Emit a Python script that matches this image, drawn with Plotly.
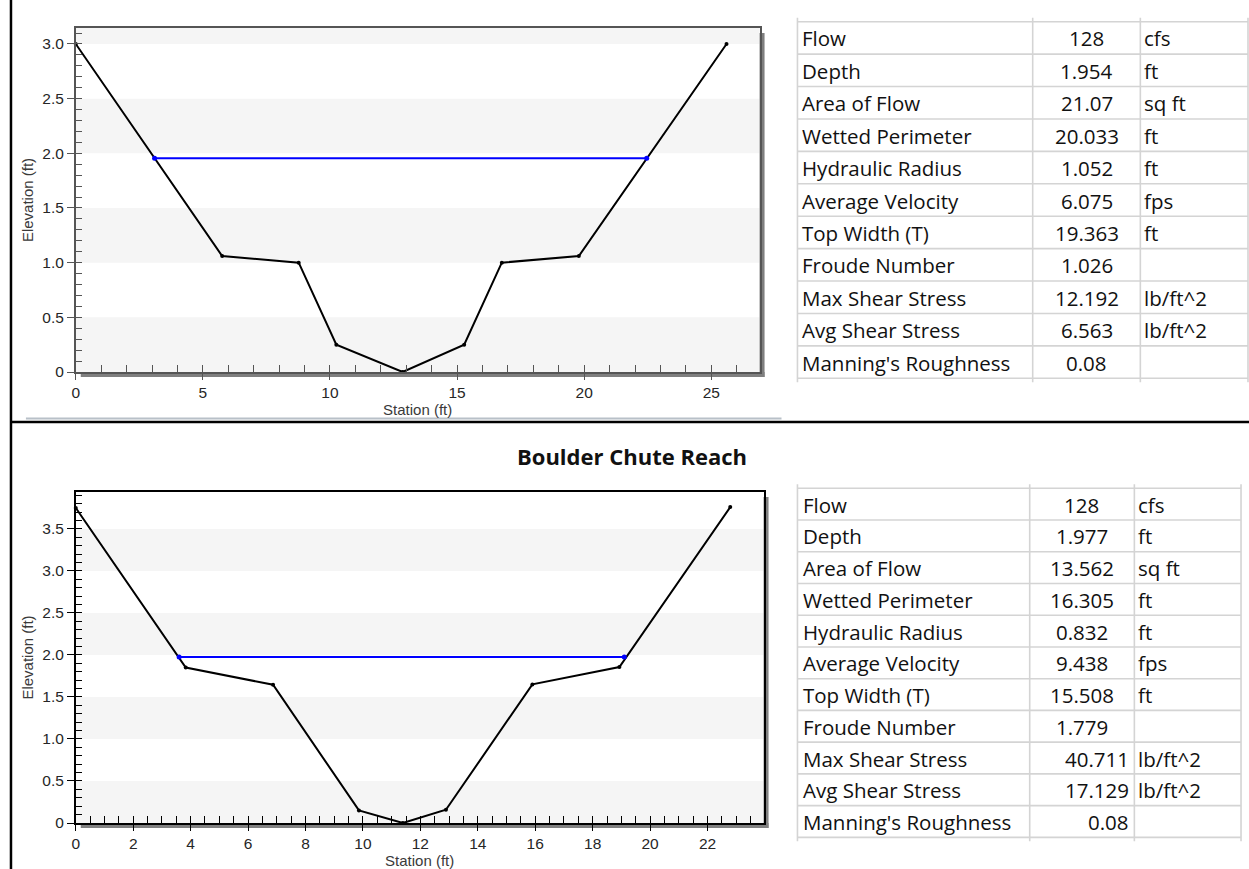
import plotly.graph_objects as go

# ---------------- data ----------------
# Top cross-section
top_station = [0, 5.76, 8.77, 10.25, 12.86, 15.28, 16.76, 19.79, 25.6]
top_elev = [3.0, 1.06, 1.00, 0.25, 0.0, 0.25, 1.00, 1.06, 3.0]
top_ws_station = [3.10, 22.46]
top_ws_elev = [1.954, 1.954]

# Boulder Chute Reach cross-section
bot_station = [0, 3.83, 6.87, 9.86, 11.39, 12.89, 15.9, 18.93, 22.79]
bot_elev = [3.75, 1.85, 1.646, 0.15, 0.0, 0.158, 1.65, 1.857, 3.76]
bot_ws_station = [3.60, 19.10]
bot_ws_elev = [1.977, 1.977]

top_yticks = [0, 0.5, 1.0, 1.5, 2.0, 2.5, 3.0]
top_yticktext = ["0", "0.5", "1.0", "1.5", "2.0", "2.5", "3.0"]
bot_yticks = [0, 0.5, 1.0, 1.5, 2.0, 2.5, 3.0, 3.5]
bot_yticktext = ["0", "0.5", "1.0", "1.5", "2.0", "2.5", "3.0", "3.5"]

table_labels = ["Flow", "Depth", "Area of Flow", "Wetted Perimeter", "Hydraulic Radius",
                "Average Velocity", "Top Width (T)", "Froude Number", "Max Shear Stress",
                "Avg Shear Stress", "Manning's Roughness"]
top_values = ["128", "1.954", "21.07", "20.033", "1.052", "6.075", "19.363", "1.026",
              "12.192", "6.563", "0.08"]
top_units = ["cfs", "ft", "sq ft", "ft", "ft", "fps", "ft", "", "lb/ft^2", "lb/ft^2", ""]
bot_values = ["128", "1.977", "13.562", "16.305", "0.832", "9.438", "15.508", "1.779",
              "40.711", "17.129", "0.08"]
bot_units = ["cfs", "ft", "sq ft", "ft", "ft", "fps", "ft", "", "lb/ft^2", "lb/ft^2", ""]
bot_value_right = [False] * 8 + [True] * 3

title_text = "Boulder Chute Reach"

# ---------------- layout helpers ----------------
W = 1249
REF_H = 869
FIG_H = 877
def px(x):
    return x / W
def py(y):
    return 1 - y / REF_H

L1, R1, T1, B1 = 72, 758, 28, 372
L2, R2, T2, B2 = 72, 762, 492, 823
top_xrange = [0, 26.9]
top_yrange = [0, 3.146]
bot_xrange = [0, 23.95]
bot_yrange = [0, 3.94]

TICKFONT = dict(family="Liberation Sans, Arial, sans-serif", size=15.5, color="#262626")
TITLEFONT = dict(family="Liberation Sans, Arial, sans-serif", size=15, color="#3a3a3a")
TABLEFONT = dict(family="Open Sans, sans-serif", size=20.5, color="#111111")

fig = go.Figure()

# ground lines and water surfaces
fig.add_trace(go.Scatter(x=top_station, y=top_elev, mode="lines+markers",
                         line=dict(color="black", width=2), marker=dict(color="black", size=4),
                         xaxis="x", yaxis="y", cliponaxis=False, showlegend=False))
fig.add_trace(go.Scatter(x=top_ws_station, y=top_ws_elev, mode="lines+markers",
                         line=dict(color="#0000ff", width=2), marker=dict(color="#0000ff", size=5),
                         xaxis="x", yaxis="y", cliponaxis=False, showlegend=False))
fig.add_trace(go.Scatter(x=bot_station, y=bot_elev, mode="lines+markers",
                         line=dict(color="black", width=2), marker=dict(color="black", size=4),
                         xaxis="x2", yaxis="y2", cliponaxis=False, showlegend=False))
fig.add_trace(go.Scatter(x=bot_ws_station, y=bot_ws_elev, mode="lines+markers",
                         line=dict(color="#0000ff", width=2), marker=dict(color="#0000ff", size=5),
                         xaxis="x2", yaxis="y2", cliponaxis=False, showlegend=False))

def main_x(domain, rng, dtick, minor_dtick, color, title, standoff):
    return dict(domain=domain, range=rng, dtick=dtick, tick0=0, ticks="outside", ticklen=6,
                tickwidth=1.3, tickcolor=color, showline=True, mirror=True, linecolor=color,
                linewidth=1.6, showgrid=False, zeroline=False, tickfont=TICKFONT,
                minor=dict(dtick=minor_dtick, tick0=0, ticks="inside", ticklen=7,
                           tickcolor=color, tickwidth=1.2, showgrid=False),
                title=dict(text=title, font=TITLEFONT, standoff=standoff), fixedrange=True)

def main_y(domain, rng, vals, text, color, title):
    return dict(domain=domain, range=rng, tickmode="array", tickvals=vals, ticktext=text,
                ticks="outside", ticklen=7, tickwidth=1.3, tickcolor=color, showline=True,
                mirror=True, linecolor=color, linewidth=1.6, showgrid=False, zeroline=False,
                tickfont=TICKFONT,
                minor=dict(dtick=0.1, tick0=0, ticks="inside", ticklen=6, tickcolor=color,
                           tickwidth=1.2, showgrid=False),
                title=dict(text=title, font=TITLEFONT, standoff=5), fixedrange=True)

def overlay_x(over, anchor, rng, dtick, color):
    return dict(overlaying=over, anchor=anchor, range=rng, dtick=dtick, tick0=0,
                ticks="inside", ticklen=10, tickwidth=1.3, tickcolor=color,
                showticklabels=False, showline=False, showgrid=False, zeroline=False,
                side="bottom", fixedrange=True)

def overlay_y(over, anchor, rng, vals, color):
    return dict(overlaying=over, anchor=anchor, range=rng, tickmode="array", tickvals=vals,
                ticks="inside", ticklen=6, tickwidth=1.3, tickcolor=color,
                showticklabels=False, showline=False, showgrid=False, zeroline=False,
                side="left", fixedrange=True)

top_color = "#555555"
bot_color = "#000000"

fig.update_layout(
    width=W, height=FIG_H, margin=dict(l=0, r=0, t=0, b=0),
    paper_bgcolor="white", plot_bgcolor="white", showlegend=False,
    xaxis=dict(anchor="y", **main_x([px(L1), px(R1)], top_xrange, 5, 1, top_color, "Station (ft)", 1)),
    yaxis=dict(anchor="x", **main_y([py(B1), py(T1)], top_yrange, top_yticks, top_yticktext, top_color, "Elevation (ft)")),
    xaxis2=dict(anchor="y2", **main_x([px(L2), px(R2)], bot_xrange, 2, 0.5, bot_color, "Station (ft)", 1)),
    yaxis2=dict(anchor="x2", **main_y([py(B2), py(T2)], bot_yrange, bot_yticks, bot_yticktext, bot_color, "Elevation (ft)")),
    xaxis3=overlay_x("x", "y", top_xrange, 5, top_color),
    yaxis3=overlay_y("y", "x", top_yrange, top_yticks, top_color),
    xaxis4=overlay_x("x2", "y2", bot_xrange, 2, bot_color),
    yaxis4=overlay_y("y2", "x2", bot_yrange, bot_yticks, bot_color),
)

shapes = []
# alternating light bands
for lo in [0, 1, 2, 3]:
    shapes.append(dict(type="rect", xref="x domain", yref="y", x0=0, x1=1, y0=lo,
                       y1=min(lo + 0.5, top_yrange[1]), fillcolor="#f5f5f5",
                       line=dict(width=0), layer="below"))
for lo in [0, 1, 2, 3]:
    shapes.append(dict(type="rect", xref="x2 domain", yref="y2", x0=0, x1=1, y0=lo,
                       y1=lo + 0.5, fillcolor="#f5f5f5", line=dict(width=0), layer="below"))

# drop shadows
shapes += [
    dict(type="rect", xref="paper", yref="paper", x0=px(L1 + 5), x1=px(R1 + 5), y0=py(B1 + 5), y1=py(B1),
         fillcolor="#7f7f7f", line=dict(width=0), layer="below"),
    dict(type="rect", xref="paper", yref="paper", x0=px(R1), x1=px(R1 + 5), y0=py(B1 + 5), y1=py(T1 + 5),
         fillcolor="#7f7f7f", line=dict(width=0), layer="below"),
    dict(type="rect", xref="paper", yref="paper", x0=px(L2 + 5), x1=px(R2 + 5), y0=py(B2 + 5), y1=py(B2),
         fillcolor="#808080", line=dict(width=0), layer="below"),
    dict(type="rect", xref="paper", yref="paper", x0=px(R2), x1=px(R2 + 5), y0=py(B2 + 5), y1=py(T2 + 5),
         fillcolor="#808080", line=dict(width=0), layer="below"),
]

# separators
shapes += [
    dict(type="line", xref="paper", yref="paper", x0=px(7), x1=px(7), y0=1, y1=0,
         line=dict(color="black", width=2.5)),
    dict(type="line", xref="paper", yref="paper", x0=px(7), x1=px(W), y0=py(422), y1=py(422),
         line=dict(color="black", width=2.5)),
    dict(type="line", xref="paper", yref="paper", x0=px(22), x1=px(780), y0=py(418.5), y1=py(418.5),
         line=dict(color="#b8c0c8", width=2)),
]

annotations = []

def add_table(top, row_h, cols, label_x, value_x, value_right, unit_x, values, units):
    n = len(table_labels)
    for i in range(n + 1):
        y = top + i * row_h
        shapes.append(dict(type="line", xref="paper", yref="paper", x0=px(cols[0]), x1=px(cols[-1]),
                           y0=py(y), y1=py(y), line=dict(color="#d4d4d4", width=1.6)))
    for c in cols:
        shapes.append(dict(type="line", xref="paper", yref="paper", x0=px(c), x1=px(c),
                           y0=py(top - 4), y1=py(top + n * row_h + 4), line=dict(color="#d4d4d4", width=1.6)))
    for i in range(n):
        yc = top + (i + 0.5) * row_h + 0.5
        annotations.append(dict(xref="paper", yref="paper", x=px(label_x), y=py(yc), text=table_labels[i],
                                showarrow=False, xanchor="left", yanchor="middle", font=TABLEFONT))
        if value_right[i]:
            annotations.append(dict(xref="paper", yref="paper", x=px(value_x[1]), y=py(yc), text=values[i],
                                    showarrow=False, xanchor="right", yanchor="middle", font=TABLEFONT))
        else:
            annotations.append(dict(xref="paper", yref="paper", x=px(value_x[0]), y=py(yc), text=values[i],
                                    showarrow=False, xanchor="center", yanchor="middle", font=TABLEFONT))
        if units[i]:
            annotations.append(dict(xref="paper", yref="paper", x=px(unit_x), y=py(yc), text=units[i],
                                    showarrow=False, xanchor="left", yanchor="middle", font=TABLEFONT))

add_table(21.7, 32.42, [796, 1032, 1140, 1248], 799, (1086, 1130), [False] * 11, 1142,
          top_values, top_units)
add_table(488.3, 31.73, [796, 1029, 1134, 1241], 800, (1081, 1131), bot_value_right, 1136,
          bot_values, bot_units)

annotations.append(dict(xref="paper", yref="paper", x=px(630), y=py(456), text="<b>" + title_text + "</b>",
                        showarrow=False, xanchor="center", yanchor="middle",
                        font=dict(family="Open Sans, sans-serif", size=22, color="#111111")))

fig.update_layout(shapes=shapes, annotations=annotations)

fig.write_html("out.html", config={"displayModeBar": False},
               post_script="document.body.style.margin='0';document.body.style.overflow='hidden';")
